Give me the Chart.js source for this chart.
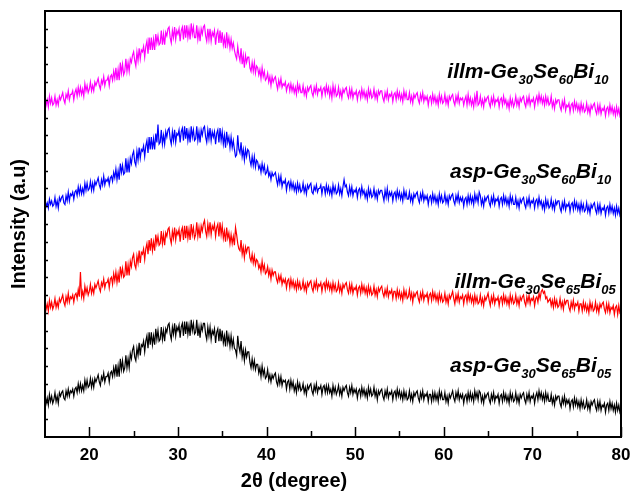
<!DOCTYPE html>
<html>
<head>
<meta charset="utf-8">
<script src="https://cdn.jsdelivr.net/npm/chart.js@4.4.1/dist/chart.umd.min.js"></script>
<style>
  html, body { margin: 0; padding: 0; background: #fff; }
  #wrap { width: 633px; height: 491px; }
</style>
</head>
<body>
<div id="wrap"><canvas id="xrdChart" width="633" height="491"></canvas></div>
<script>
// scan grid: 2theta from 15 to 80 deg, 0.125 deg step (one row below = one degree)
const scanStart = 15;
const scanStep = 0.125;

// intensities (a.u., already stacked)
const aspBi05 = [
  23,19,22,18,24,20,23,19,
  21,25,20,23,19,25,23,25,
  26,22,21,26,23,27,23,26,
  25,27,23,27,28,25,30,26,
  30,26,29,26,32,28,32,28,
  29,33,28,32,28,33,31,33,
  35,31,29,34,32,36,31,34,
  34,36,31,36,37,34,39,35,
  41,34,40,34,44,38,43,37,
  39,46,39,44,39,47,44,49,
  51,45,43,50,46,53,46,52,
  51,54,48,54,57,50,59,52,
  59,52,57,52,61,55,60,54,
  55,62,55,60,54,61,59,63,
  64,58,55,62,58,64,57,62,
  60,63,56,62,64,57,65,58,
  65,58,63,57,66,60,64,58,
  59,66,57,62,56,63,60,64,
  64,58,55,62,57,62,55,60,
  58,61,53,59,61,54,61,54,
  60,53,57,51,60,53,57,51,
  57,51,55,50,49,46,57,51,
  48,54,45,49,43,49,45,48,
  48,42,39,44,39,43,38,41,
  41,36,39,34,40,35,38,33,
  34,38,32,35,31,35,33,35,
  36,31,29,34,30,34,29,32,
  31,32,27,31,32,27,32,28,
  31,26,29,25,31,27,30,26,
  27,30,25,28,24,29,27,29,
  30,26,24,29,26,30,25,28,
  27,29,24,28,29,25,29,25,
  29,25,27,23,29,25,28,24,
  26,29,24,27,23,28,26,28,
  29,25,23,28,25,29,24,27,
  25,27,22,26,27,23,28,24,
  27,23,26,22,28,24,27,23,
  24,28,23,26,21,26,24,26,
  27,23,21,26,23,27,22,25,
  24,26,21,25,26,22,27,23,
  26,22,25,21,26,22,25,21,
  22,26,21,24,20,25,23,25,
  26,22,20,25,22,26,21,24,
  23,25,20,24,24,20,25,21,
  25,21,24,20,26,22,25,21,
  21,25,20,23,19,24,22,24,
  26,22,20,25,22,26,21,24,
  22,24,19,23,24,20,25,21,
  25,21,24,20,26,22,25,21,
  26,25,20,23,19,24,22,24,
  25,21,19,24,21,25,20,23,
  22,24,19,23,24,20,25,21,
  24,20,23,19,25,21,24,20,
  21,25,20,23,19,24,22,24,
  25,21,19,24,21,25,20,23,
  22,24,19,23,25,21,26,22,
  25,21,24,20,25,21,24,20,
  20,24,19,22,18,23,21,23,
  23,19,17,22,19,23,18,21,
  19,21,16,20,21,17,22,18,
  21,17,20,16,21,17,20,16,
  17,21,16,19,15,20,18,20,
  21,17,15,20,16,20,15,18,
  17,19,14,18,19,15,20,16,
  19,15,18,14,19,15,18,14,
  16
];
const illmBi05 = [
  76,72,75,71,77,73,76,72,
  74,78,73,76,73,78,76,78,
  80,76,74,79,76,81,76,79,
  78,80,76,80,81,78,83,79,
  93,79,82,78,85,81,84,80,
  82,86,81,84,81,86,84,86,
  88,84,82,87,85,89,84,87,
  87,89,84,89,90,86,92,88,
  93,87,92,87,96,91,95,90,
  91,99,91,97,91,99,96,101,
  103,97,95,102,98,105,98,104,
  103,106,100,106,109,103,111,105,
  112,105,110,105,114,109,113,108,
  109,116,109,114,108,115,113,117,
  118,112,109,116,112,118,111,116,
  114,117,110,116,118,111,119,112,
  119,112,117,111,120,114,118,112,
  114,121,113,118,112,119,116,120,
  122,116,113,120,115,121,114,119,
  117,120,113,118,120,113,121,114,
  119,112,116,110,118,112,115,109,
  114,109,113,108,118,114,109,106,
  105,111,103,107,101,107,104,107,
  107,101,99,103,98,102,97,100,
  99,95,97,93,99,94,97,92,
  93,96,91,94,89,94,91,93,
  93,89,87,91,88,91,86,89,
  87,89,84,88,89,84,89,85,
  88,84,87,83,88,84,87,83,
  84,88,83,86,82,87,85,87,
  88,84,82,87,84,88,83,86,
  85,87,82,86,87,83,88,84,
  87,83,86,82,87,83,86,82,
  83,87,82,85,81,86,84,86,
  87,83,81,86,82,86,81,84,
  83,85,80,84,85,81,86,82,
  85,81,84,80,85,81,84,80,
  81,85,80,83,79,84,82,84,
  85,81,79,83,80,84,79,82,
  81,83,78,82,82,78,83,79,
  82,78,81,77,83,79,82,78,
  79,83,78,81,76,81,79,81,
  82,78,76,81,78,82,77,80,
  79,81,76,80,81,77,82,78,
  81,77,80,76,81,77,80,76,
  77,81,76,79,75,80,78,80,
  82,78,75,80,77,81,76,79,
  78,80,75,79,80,76,81,77,
  80,76,79,75,80,76,79,75,
  76,80,75,78,74,79,77,79,
  81,77,74,79,76,80,75,78,
  77,79,74,78,79,75,80,76,
  79,75,78,74,80,76,79,75,
  76,80,75,78,74,79,77,79,
  80,76,74,79,76,80,75,78,
  77,79,74,78,79,76,81,78,
  82,83,81,82,78,79,76,77,
  78,74,77,73,78,74,77,73,
  74,78,73,76,72,77,75,77,
  77,73,71,76,73,77,72,75,
  74,76,71,75,75,71,76,72,
  75,71,74,70,76,72,75,71,
  72,76,71,74,70,75,73,75,
  76,72,70,75,71,75,70,73,
  72,74,69,73,74,69,74,70,
  71
];
const aspBi10 = [
  133,130,132,129,134,131,133,130,
  131,135,130,133,129,135,133,135,
  136,132,131,136,133,138,133,137,
  136,138,134,138,139,136,141,137,
  141,137,140,137,143,139,143,139,
  140,144,139,143,139,144,142,144,
  146,142,140,145,142,147,142,145,
  144,146,142,146,147,144,149,146,
  151,145,150,145,154,149,153,148,
  149,157,149,155,149,157,154,159,
  161,155,153,161,156,163,157,162,
  161,164,158,164,167,160,169,162,
  169,162,168,162,171,166,176,165,
  166,173,165,170,165,172,169,173,
  174,168,165,172,167,173,166,171,
  170,173,166,172,174,167,175,168,
  174,167,172,166,175,169,173,167,
  168,175,167,172,166,173,170,174,
  175,169,166,173,168,174,167,172,
  169,172,165,171,173,166,174,167,
  172,165,170,163,172,166,169,163,
  169,163,167,162,158,159,170,162,
  160,166,158,162,156,162,158,162,
  161,156,153,158,153,158,152,156,
  155,151,153,149,154,150,153,148,
  149,152,147,149,145,149,147,148,
  149,145,142,147,143,147,141,144,
  143,145,139,143,144,140,144,140,
  143,139,142,138,143,139,142,138,
  139,143,138,141,137,142,140,142,
  143,138,137,141,139,142,138,140,
  140,142,137,141,141,137,142,138,
  141,137,140,136,142,138,141,137,
  138,142,137,140,136,141,145,141,
  142,138,136,141,137,141,136,139,
  138,140,135,139,140,136,141,137,
  139,135,138,134,140,136,139,135,
  136,140,135,138,134,139,137,139,
  139,136,133,139,135,140,134,138,
  136,138,133,137,138,134,139,135,
  138,134,137,133,139,135,138,134,
  134,138,133,136,132,137,135,137,
  138,134,132,137,134,138,133,136,
  134,136,131,135,136,132,137,133,
  136,132,135,131,137,133,136,132,
  133,137,132,135,131,136,134,136,
  137,133,131,136,133,137,132,135,
  133,135,130,134,135,131,136,132,
  136,132,135,131,137,133,136,132,
  138,136,131,134,130,135,133,135,
  136,132,130,135,132,136,131,134,
  133,135,130,134,135,131,136,132,
  135,131,134,130,136,132,135,131,
  131,135,130,133,129,134,132,134,
  135,131,129,134,131,135,130,133,
  132,134,129,133,134,130,135,131,
  133,129,132,128,134,130,133,129,
  130,134,129,132,128,133,131,133,
  133,129,127,132,129,133,128,131,
  130,132,127,131,132,128,133,129,
  132,128,131,127,132,128,131,127,
  128,132,127,130,126,131,129,131,
  132,128,126,131,127,131,126,129,
  128,130,125,129,130,126,131,127,
  130,126,129,125,130,126,129,125,
  127
];
const illmBi10 = [
  191,187,190,186,192,188,191,187,
  188,192,187,190,187,192,190,192,
  194,190,188,193,191,195,190,193,
  193,195,190,194,196,192,197,193,
  197,193,196,192,199,195,198,194,
  196,200,195,198,195,200,198,200,
  202,198,196,201,199,203,198,201,
  201,203,198,203,204,201,206,202,
  208,201,207,201,211,205,210,204,
  206,213,206,211,206,213,211,215,
  217,212,209,217,212,219,213,218,
  217,220,214,220,223,216,225,218,
  225,218,224,218,227,222,226,221,
  222,229,221,227,221,228,226,230,
  231,225,222,229,225,231,224,229,
  227,230,223,229,231,224,232,225,
  232,225,230,224,233,227,231,225,
  225,232,224,229,223,230,227,231,
  232,226,223,230,224,230,223,228,
  226,229,221,227,229,222,229,222,
  228,221,225,219,228,221,225,219,
  224,219,222,218,215,213,220,215,
  212,219,210,215,208,215,211,214,
  214,208,206,211,206,211,205,209,
  208,204,207,202,208,203,206,201,
  202,205,200,203,198,203,200,202,
  203,199,196,201,198,202,197,199,
  198,200,195,198,199,195,199,195,
  198,194,197,193,199,195,198,194,
  194,198,193,196,192,197,195,197,
  198,194,192,197,194,198,193,196,
  195,197,192,196,197,193,198,194,
  197,192,196,191,198,193,197,192,
  193,197,192,195,191,196,194,196,
  197,193,191,196,192,196,191,194,
  193,195,190,194,195,191,196,192,
  195,191,194,190,196,192,195,191,
  192,196,191,194,190,195,193,195,
  195,191,189,194,191,195,190,193,
  192,194,189,193,194,190,195,191,
  194,190,193,189,195,191,194,190,
  190,194,189,192,188,193,191,193,
  194,190,188,193,190,194,189,192,
  190,192,187,191,192,188,193,189,
  192,188,191,187,193,189,192,188,
  189,193,188,191,187,192,190,192,
  193,189,187,192,189,193,188,191,
  190,191,187,190,192,187,193,188,
  191,187,190,186,192,188,195,187,
  188,192,187,190,186,191,189,191,
  192,188,186,191,188,192,187,190,
  189,191,186,190,191,187,192,188,
  190,186,189,185,191,187,190,186,
  188,192,187,190,186,191,189,191,
  192,188,186,191,188,192,187,190,
  189,191,186,190,192,188,193,189,
  192,188,191,187,192,188,191,187,
  188,192,186,189,185,190,188,190,
  190,186,184,189,186,190,184,187,
  186,188,183,187,188,184,189,185,
  188,184,187,183,188,184,187,183,
  184,188,183,186,182,187,185,187,
  188,184,182,187,183,187,182,185,
  184,186,181,185,186,182,187,183,
  186,182,185,181,186,182,185,181,
  183
];

const sampleNames = [
  [['asp-Ge', '30'], ['Se', '65'], ['Bi', '05']],
  [['illm-Ge', '30'], ['Se', '65'], ['Bi', '05']],
  [['asp-Ge', '30'], ['Se', '60'], ['Bi', '10']],
  [['illm-Ge', '30'], ['Se', '60'], ['Bi', '10']]
];
const xTickLabels = [20, 30, 40, 50, 60, 70, 80];
const xMinorTicks = [25, 35, 45, 55, 65, 75];

const seriesColors = ['#000000', '#ff0000', '#0000ff', '#ff00ff'];
// label anchors (right edge in degrees, baseline in a.u.)
const labelAnchors = [[78.9, 36.5], [79.4, 84], [78.9, 146], [78.6, 202.5]];

const FONT = '"Liberation Sans", Arial, sans-serif';

function toPoints(vals) {
  return vals.map((v, i) => ({ x: scanStart + i * scanStep, y: v }));
}

const allSeries = [aspBi05, illmBi05, aspBi10, illmBi10];

const datasets = allSeries.map((vals, k) => ({
  label: sampleNames[k].map(p => p[0] + p[1]).join(''),
  data: toPoints(vals),
  borderColor: seriesColors[k],
  borderWidth: 1.2,
  pointRadius: 0,
  tension: 0,
  fill: false
}));

// frame, inward ticks, tick labels, sample labels and axis titles
const decorPlugin = {
  id: 'decor',
  afterDraw(chart) {
    const { ctx, chartArea: a, scales } = chart;
    const xs = scales.x, ys = scales.y;
    ctx.save();
    ctx.strokeStyle = '#000';
    ctx.lineWidth = 2;
    ctx.strokeRect(a.left, a.top, a.right - a.left, a.bottom - a.top);

    ctx.lineWidth = 1.5;
    ctx.beginPath();
    xTickLabels.forEach(v => {
      const px = Math.round(xs.getPixelForValue(v)) + 0.5;
      ctx.moveTo(px, a.bottom); ctx.lineTo(px, a.bottom - 10);
    });
    xMinorTicks.forEach(v => {
      const px = Math.round(xs.getPixelForValue(v)) + 0.5;
      ctx.moveTo(px, a.bottom); ctx.lineTo(px, a.bottom - 6);
    });
    for (let v = 10; v < 240; v += 10) {
      const py = Math.round(ys.getPixelForValue(v)) + 0.5;
      ctx.moveTo(a.left, py); ctx.lineTo(a.left + 3, py);
    }
    ctx.stroke();

    ctx.fillStyle = '#000';
    ctx.font = 'bold 17px ' + FONT;
    ctx.textAlign = 'center';
    ctx.textBaseline = 'middle';
    xTickLabels.forEach(v => {
      ctx.fillText(String(v), xs.getPixelForValue(v), a.bottom + 18);
    });

    // sample labels with subscripts
    const mainFont = 'italic bold 21px ' + FONT;
    const subFont = 'italic bold 13px ' + FONT;
    ctx.textBaseline = 'alphabetic';
    ctx.textAlign = 'left';
    sampleNames.forEach((parts, k) => {
      let w = 0;
      parts.forEach(([m, s]) => {
        ctx.font = mainFont; w += ctx.measureText(m).width;
        ctx.font = subFont; w += ctx.measureText(s).width;
      });
      let x = xs.getPixelForValue(labelAnchors[k][0]) - w;
      const y = ys.getPixelForValue(labelAnchors[k][1]);
      parts.forEach(([m, s]) => {
        ctx.font = mainFont; ctx.fillText(m, x, y); x += ctx.measureText(m).width;
        ctx.font = subFont; ctx.fillText(s, x, y + 6); x += ctx.measureText(s).width;
      });
    });

    // axis titles
    ctx.font = 'bold 20px ' + FONT;
    ctx.textAlign = 'center';
    ctx.textBaseline = 'middle';
    ctx.fillText('2\u03B8 (degree)', 294, 481);
    ctx.translate(19, (a.top + a.bottom) / 2);
    ctx.rotate(-Math.PI / 2);
    ctx.fillText('Intensity (a.u)', 0, 0);
    ctx.restore();
  }
};

new Chart(document.getElementById('xrdChart'), {
  type: 'line',
  data: { datasets },
  options: {
    responsive: false,
    animation: false,
    devicePixelRatio: 1,
    layout: { padding: { top: 11, right: 12, left: 0, bottom: 0 } },
    plugins: { legend: { display: false }, tooltip: { enabled: false } },
    scales: {
      x: {
        type: 'linear',
        min: 15, max: 80,
        afterFit: s => { s.height = 54; },
        grid: { display: false, drawTicks: false },
        border: { display: false },
        ticks: { display: false }
      },
      y: {
        min: 0, max: 240,
        afterFit: s => { s.width = 45; },
        grid: { display: false, drawTicks: false },
        border: { display: false },
        ticks: { display: false }
      }
    }
  },
  plugins: [decorPlugin]
});
</script>
</body>
</html>
